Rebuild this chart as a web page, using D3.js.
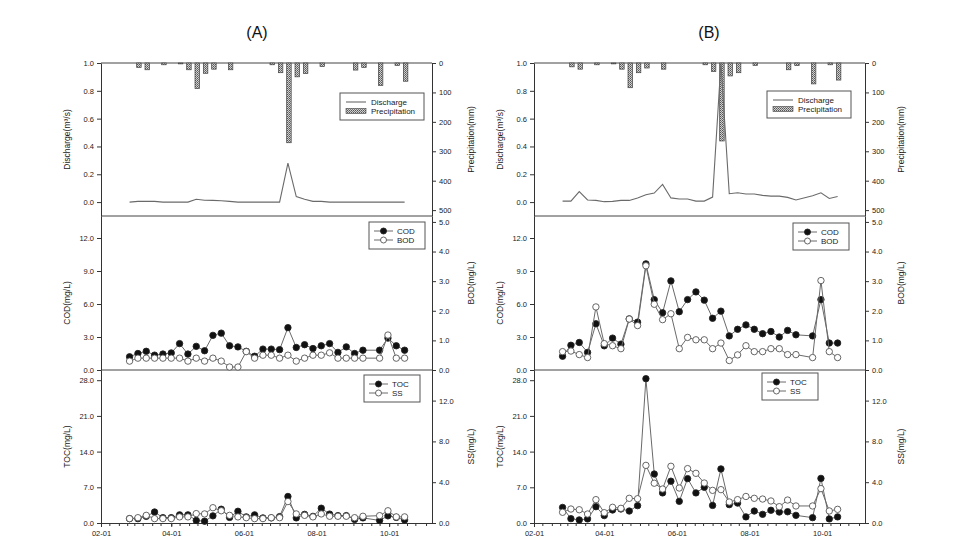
<!DOCTYPE html>
<html>
<head>
<meta charset="utf-8">
<script src="https://cdn.jsdelivr.net/npm/d3@7"></script>
<style>
  html, body { margin: 0; padding: 0; background: #fff; }
  svg { display: block; font-family: "Liberation Sans", Arial, sans-serif; }
  .tick text { fill: #222; }
  .tick line, .domain { stroke: #333; }
</style>
</head>
<body>
<svg id="chart" width="960" height="558"></svg>
<script>
// ---------- data ----------
const sampleDates = ["2010-02-25","2010-03-04","2010-03-11","2010-03-18","2010-03-25","2010-04-01","2010-04-08","2010-04-15","2010-04-22","2010-04-29","2010-05-06","2010-05-13","2010-05-20","2010-05-27","2010-06-03","2010-06-10","2010-06-17","2010-06-24","2010-07-01","2010-07-08","2010-07-15","2010-07-22","2010-07-29","2010-08-05","2010-08-12","2010-08-19","2010-08-26","2010-09-02","2010-09-09","2010-09-23","2010-09-30","2010-10-07","2010-10-14"];
const xTickLabels = ["2010-02-01","2010-04-01","2010-06-01","2010-08-01","2010-10-01"];

const dischargeA = [0.0,0.005,0.005,0.005,0.0,0.0,0.0,0.0,0.02,0.013,0.012,0.01,0.005,0.0,0.0,0.0,0.0,0.0,0.0,0.28,0.04,0.02,0.005,0.005,0.0,0.0,0.0,0.0,0.0,0.0,0.0,0.0,0.0];
const precipA = [0,15,23,0,6,0,3,23,87,35,21,0,23,0,0,0,0,6,33,271,47,36,0,12,0,0,0,24,15,76,0,8,62];
const codA = [1.2,1.5,1.7,1.35,1.45,1.55,2.4,1.45,2.15,1.75,3.15,3.35,2.2,2.1,1.7,1.25,1.9,1.9,1.85,3.85,2.05,2.3,1.95,2.2,2.4,1.6,2.1,1.5,1.8,1.8,2.9,2.2,1.8];
const bodA = [0.3,0.4,0.4,0.4,0.4,0.4,0.4,0.3,0.4,0.3,0.4,0.3,0.1,0.1,0.62,0.4,0.5,0.5,0.4,0.5,0.3,0.4,0.5,0.5,0.58,0.4,0.4,0.4,0.4,0.4,1.18,0.4,0.4];
const tocA = [0.85,0.85,1.3,2.15,1.05,1.05,1.6,1.6,0.5,0.35,1.4,2.7,1.1,2.3,1.2,1.6,1.0,1.0,1.25,5.2,1.0,1.7,1.3,2.9,1.75,1.45,1.45,0.7,1.0,0.5,1.4,1.1,0.6];
const ssA = [0.43,0.52,0.75,0.43,0.43,0.43,0.6,0.6,0.92,0.89,1.5,1.2,0.75,0.6,0.52,0.43,0.43,0.52,0.52,2.1,0.89,0.75,0.6,0.89,0.66,0.66,0.66,0.52,0.66,0.72,1.2,0.6,0.6];

const dischargeB = [0.007,0.007,0.075,0.015,0.012,0.003,0.005,0.012,0.012,0.03,0.053,0.065,0.127,0.03,0.022,0.022,0.007,0.007,0.036,1.0,0.06,0.067,0.058,0.058,0.048,0.043,0.043,0.034,0.015,0.045,0.067,0.026,0.04];
const precipB = [0,13,21,0,6,0,3,21,84,33,17,0,21,0,0,0,0,6,29,265,44,33,0,8,0,0,0,23,9,71,0,6,58];
const codB = [1.25,2.25,2.5,1.6,4.2,2.2,2.9,2.35,4.65,4.35,9.65,6.4,5.2,8.1,5.3,6.4,7.1,6.35,4.7,5.35,3.1,3.7,4.1,3.7,3.3,3.5,3.0,3.6,3.2,3.1,6.4,2.45,2.45];
const bodB = [0.62,0.64,0.52,0.42,2.13,0.89,0.82,0.72,1.72,1.5,3.52,2.22,1.7,1.9,0.72,1.1,1.02,1.02,0.72,0.91,0.32,0.51,0.82,0.62,0.62,0.72,0.72,0.52,0.52,0.42,3.02,0.62,0.42];
const tocB = [3.05,0.85,0.6,0.8,3.2,1.45,2.55,2.75,2.35,3.4,28.3,9.6,5.9,8.2,4.25,8.7,5.9,7.0,3.45,10.6,3.6,3.9,1.2,2.35,1.7,2.5,2.15,2.2,1.5,1.05,8.75,0.8,1.2];
const ssB = [1.05,1.37,1.3,0.88,2.29,1.01,1.54,1.44,2.42,2.38,5.65,3.9,3.33,5.56,3.43,5.33,4.87,3.92,3.2,3.27,2.06,2.29,2.6,2.42,2.35,2.16,1.6,2.25,1.67,1.67,3.37,1.18,1.34];

const dischargeTicks = [0,0.2,0.4,0.6,0.8,1.0];
const precipTicks = [0,100,200,300,400,500];
const codTicks = [0,3,6,9,12];
const bodTicks = [0,1,2,3,4,5];
const tocTicks = [0,7,14,21,28];
const ssTicks = [0,4,8,12];

const panelTitles = ["(A)", "(B)"];
const leftTitles = ["Discharge(m\u00B3/s)", "COD(mg/L)", "TOC(mg/L)"];
const rightTitles = ["Precipitation(mm)", "BOD(mg/L)", "SS(mg/L)"];

// ---------- drawing ----------
const svg = d3.select("#chart");
const parse = d3.timeParse("%Y-%m-%d");
const dates = sampleDates.map(parse);

const defs = svg.append("defs");
const pat = defs.append("pattern").attr("id", "dots").attr("width", 2).attr("height", 2)
  .attr("patternUnits", "userSpaceOnUse");
pat.append("rect").attr("width", 2).attr("height", 2).attr("fill", "#d0d0d0");
pat.append("rect").attr("width", 1).attr("height", 1).attr("fill", "#555");
pat.append("rect").attr("x", 1).attr("y", 1).attr("width", 1).attr("height", 1).attr("fill", "#777");

const W = 331;
const top1 = 63, top2 = 216, top3 = 370, bot = 523;
const x = d3.scaleTime().domain([parse("2010-02-01"), parse("2010-11-06")]).range([0, W]);

const yQ = d3.scaleLinear().domain([-0.1, 1.0]).range([top2, top1]);
const yP = d3.scaleLinear().domain([0, 520]).range([top1, top2]);
const yCOD = d3.scaleLinear().domain([0, 14]).range([top3, top2]);
const yBOD = d3.scaleLinear().domain([0, 5.2]).range([top3, top2]);
const yTOC = d3.scaleLinear().domain([0, 30]).range([bot, top3]);
const ySS = d3.scaleLinear().domain([0, 15]).range([bot, top3]);

const lineCol = "#6a6a6a";
const f1 = d3.format(".1f");

function styleAxis(g) {
  g.selectAll("text").attr("font-size", 7.5).attr("fill", "#222");
  g.selectAll(".tick line").attr("stroke", "#333");
  g.select(".domain").attr("stroke", "#333");
}

function drawColumn(ox, idx, titleX, rOff, Q, P, c1, c2, t1, t2, lg) {
  const g = svg.append("g").attr("transform", `translate(${ox},0)`);

  // titles
  svg.append("text").attr("x", titleX).attr("y", 38).attr("text-anchor", "middle")
    .attr("font-size", 16).attr("fill", "#111").text(panelTitles[idx]);

  // frame lines
  [top1, top2, top3].forEach(yy => g.append("line").attr("x1", 0).attr("x2", W)
    .attr("y1", yy).attr("y2", yy).attr("stroke", "#444").attr("stroke-width", 1));

  // axes
  const axes = [
    [d3.axisLeft(yQ).tickValues(dischargeTicks).tickFormat(f1), 0],
    [d3.axisLeft(yCOD).tickValues(codTicks).tickFormat(f1), 0],
    [d3.axisLeft(yTOC).tickValues(tocTicks).tickFormat(f1), 0],
    [d3.axisRight(yP).tickValues(precipTicks).tickFormat(d3.format("d")), W],
    [d3.axisRight(yBOD).tickValues(bodTicks).tickFormat(f1), W],
    [d3.axisRight(ySS).tickValues(ssTicks).tickFormat(f1), W]
  ];
  axes.forEach(([ax, tx]) => {
    const a = g.append("g").attr("transform", `translate(${tx},0)`)
      .call(ax.tickSize(4).tickSizeOuter(0).tickPadding(3));
    styleAxis(a);
  });

  // bottom axis
  const minor = [];
  for (const m of ["02","03","04","05","06","07","08","09","10","11"]) {
    for (const dd of ["01","08","16","23"]) minor.push(parse(`2010-${m}-${dd}`));
  }
  const minorTicks = minor.filter(d => x(d) <= W);
  const bm = g.append("g").attr("transform", `translate(0,${bot})`)
    .call(d3.axisBottom(x).tickValues(minorTicks).tickFormat("").tickSize(3).tickSizeOuter(0));
  styleAxis(bm);
  const ba = g.append("g").attr("transform", `translate(0,${bot})`)
    .call(d3.axisBottom(x).tickValues(xTickLabels.map(parse)).tickFormat(d3.timeFormat("%m-%d"))
      .tickSize(4).tickSizeOuter(0).tickPadding(4));
  styleAxis(ba);

  // axis titles
  const lt = [(top1 + top2) / 2, (top2 + top3) / 2 + 10, (top3 + bot) / 2];
  leftTitles.forEach((t, i) => {
    g.append("text").attr("transform", `translate(-31,${lt[i]}) rotate(-90)`)
      .attr("text-anchor", "middle").attr("font-size", 8.5).attr("fill", "#222").text(t);
  });
  const rt = [(top1 + top2) / 2, (top2 + top3) / 2 - 10, (top3 + bot) / 2];
  rightTitles.forEach((t, i) => {
    g.append("text").attr("transform", `translate(${W + rOff},${rt[i]}) rotate(-90)`)
      .attr("text-anchor", "middle").attr("font-size", 8.5).attr("fill", "#222").text(t);
  });

  // precipitation bars
  const bw = 4.5;
  g.append("g").selectAll("rect").data(P.map((v, i) => ({ d: dates[i], v })).filter(o => o.v > 0))
    .join("rect")
    .attr("x", o => x(o.d) - bw / 2 + 1)
    .attr("y", yP(0))
    .attr("width", bw)
    .attr("height", o => yP(o.v) - yP(0))
    .attr("fill", "url(#dots)").attr("stroke", "#444").attr("stroke-width", 0.7);

  // discharge line
  g.append("path").datum(Q.map((v, i) => [dates[i], v]))
    .attr("d", d3.line().x(d => x(d[0])).y(d => yQ(d[1])))
    .attr("fill", "none").attr("stroke", lineCol).attr("stroke-width", 1.1);

  function series(vals, ys, filled) {
    const pts = vals.map((v, i) => [dates[i], v]);
    g.append("path").datum(pts)
      .attr("d", d3.line().x(d => x(d[0])).y(d => ys(d[1])))
      .attr("fill", "none").attr("stroke", lineCol).attr("stroke-width", 1);
    g.append("g").selectAll("circle").data(pts).join("circle")
      .attr("cx", d => x(d[0])).attr("cy", d => ys(d[1])).attr("r", 3.2)
      .attr("fill", filled ? "#111" : "#fff")
      .attr("stroke", filled ? "#222" : "#555").attr("stroke-width", 0.9);
  }
  series(c1, yCOD, true);
  series(c2, yBOD, false);
  series(t1, yTOC, true);
  series(t2, ySS, false);

  // legends
  function legendBox(bx, by, bw2, bh) {
    g.append("rect").attr("x", bx).attr("y", by).attr("width", bw2).attr("height", bh)
      .attr("fill", "#fff").attr("stroke", "#555").attr("stroke-width", 1);
  }
  {
    const [bx, by] = lg[0];
    legendBox(bx, by, 84, 27);
    g.append("line").attr("x1", bx + 6).attr("x2", bx + 26).attr("y1", by + 9).attr("y2", by + 9)
      .attr("stroke", lineCol).attr("stroke-width", 1.1);
    g.append("rect").attr("x", bx + 6).attr("y", by + 15.5).attr("width", 20).attr("height", 5)
      .attr("fill", "url(#dots)").attr("stroke", "#444").attr("stroke-width", 0.6);
    g.append("text").attr("x", bx + 31).attr("y", by + 12).attr("font-size", 8).attr("fill", "#222").text("Discharge");
    g.append("text").attr("x", bx + 31).attr("y", by + 21).attr("font-size", 8).attr("fill", "#222").text("Precipitation");
  }
  function markerLegend(pos, names) {
    const [bx, by] = pos;
    legendBox(bx, by, 56, 27);
    [0, 1].forEach(j => {
      const yy = by + 9 + j * 9;
      g.append("line").attr("x1", bx + 5).attr("x2", bx + 24).attr("y1", yy).attr("y2", yy)
        .attr("stroke", lineCol).attr("stroke-width", 1);
      g.append("circle").attr("cx", bx + 14.5).attr("cy", yy).attr("r", 3)
        .attr("fill", j === 0 ? "#111" : "#fff").attr("stroke", j === 0 ? "#222" : "#555").attr("stroke-width", 0.9);
      g.append("text").attr("x", bx + 28).attr("y", yy + 3).attr("font-size", 8).attr("fill", "#222").text(names[j]);
    });
  }
  markerLegend(lg[1], ["COD", "BOD"]);
  markerLegend(lg[2], ["TOC", "SS"]);
}

drawColumn(101, 0, 257, 42, dischargeA, precipA, codA, bodA, tocA, ssA,
  [[239, 93], [268, 222], [263, 375]]);
drawColumn(534, 1, 709, 39, dischargeB, precipB, codB, bodB, tocB, ssB,
  [[233, 91], [259, 223], [228, 373]]);
</script>
</body>
</html>
